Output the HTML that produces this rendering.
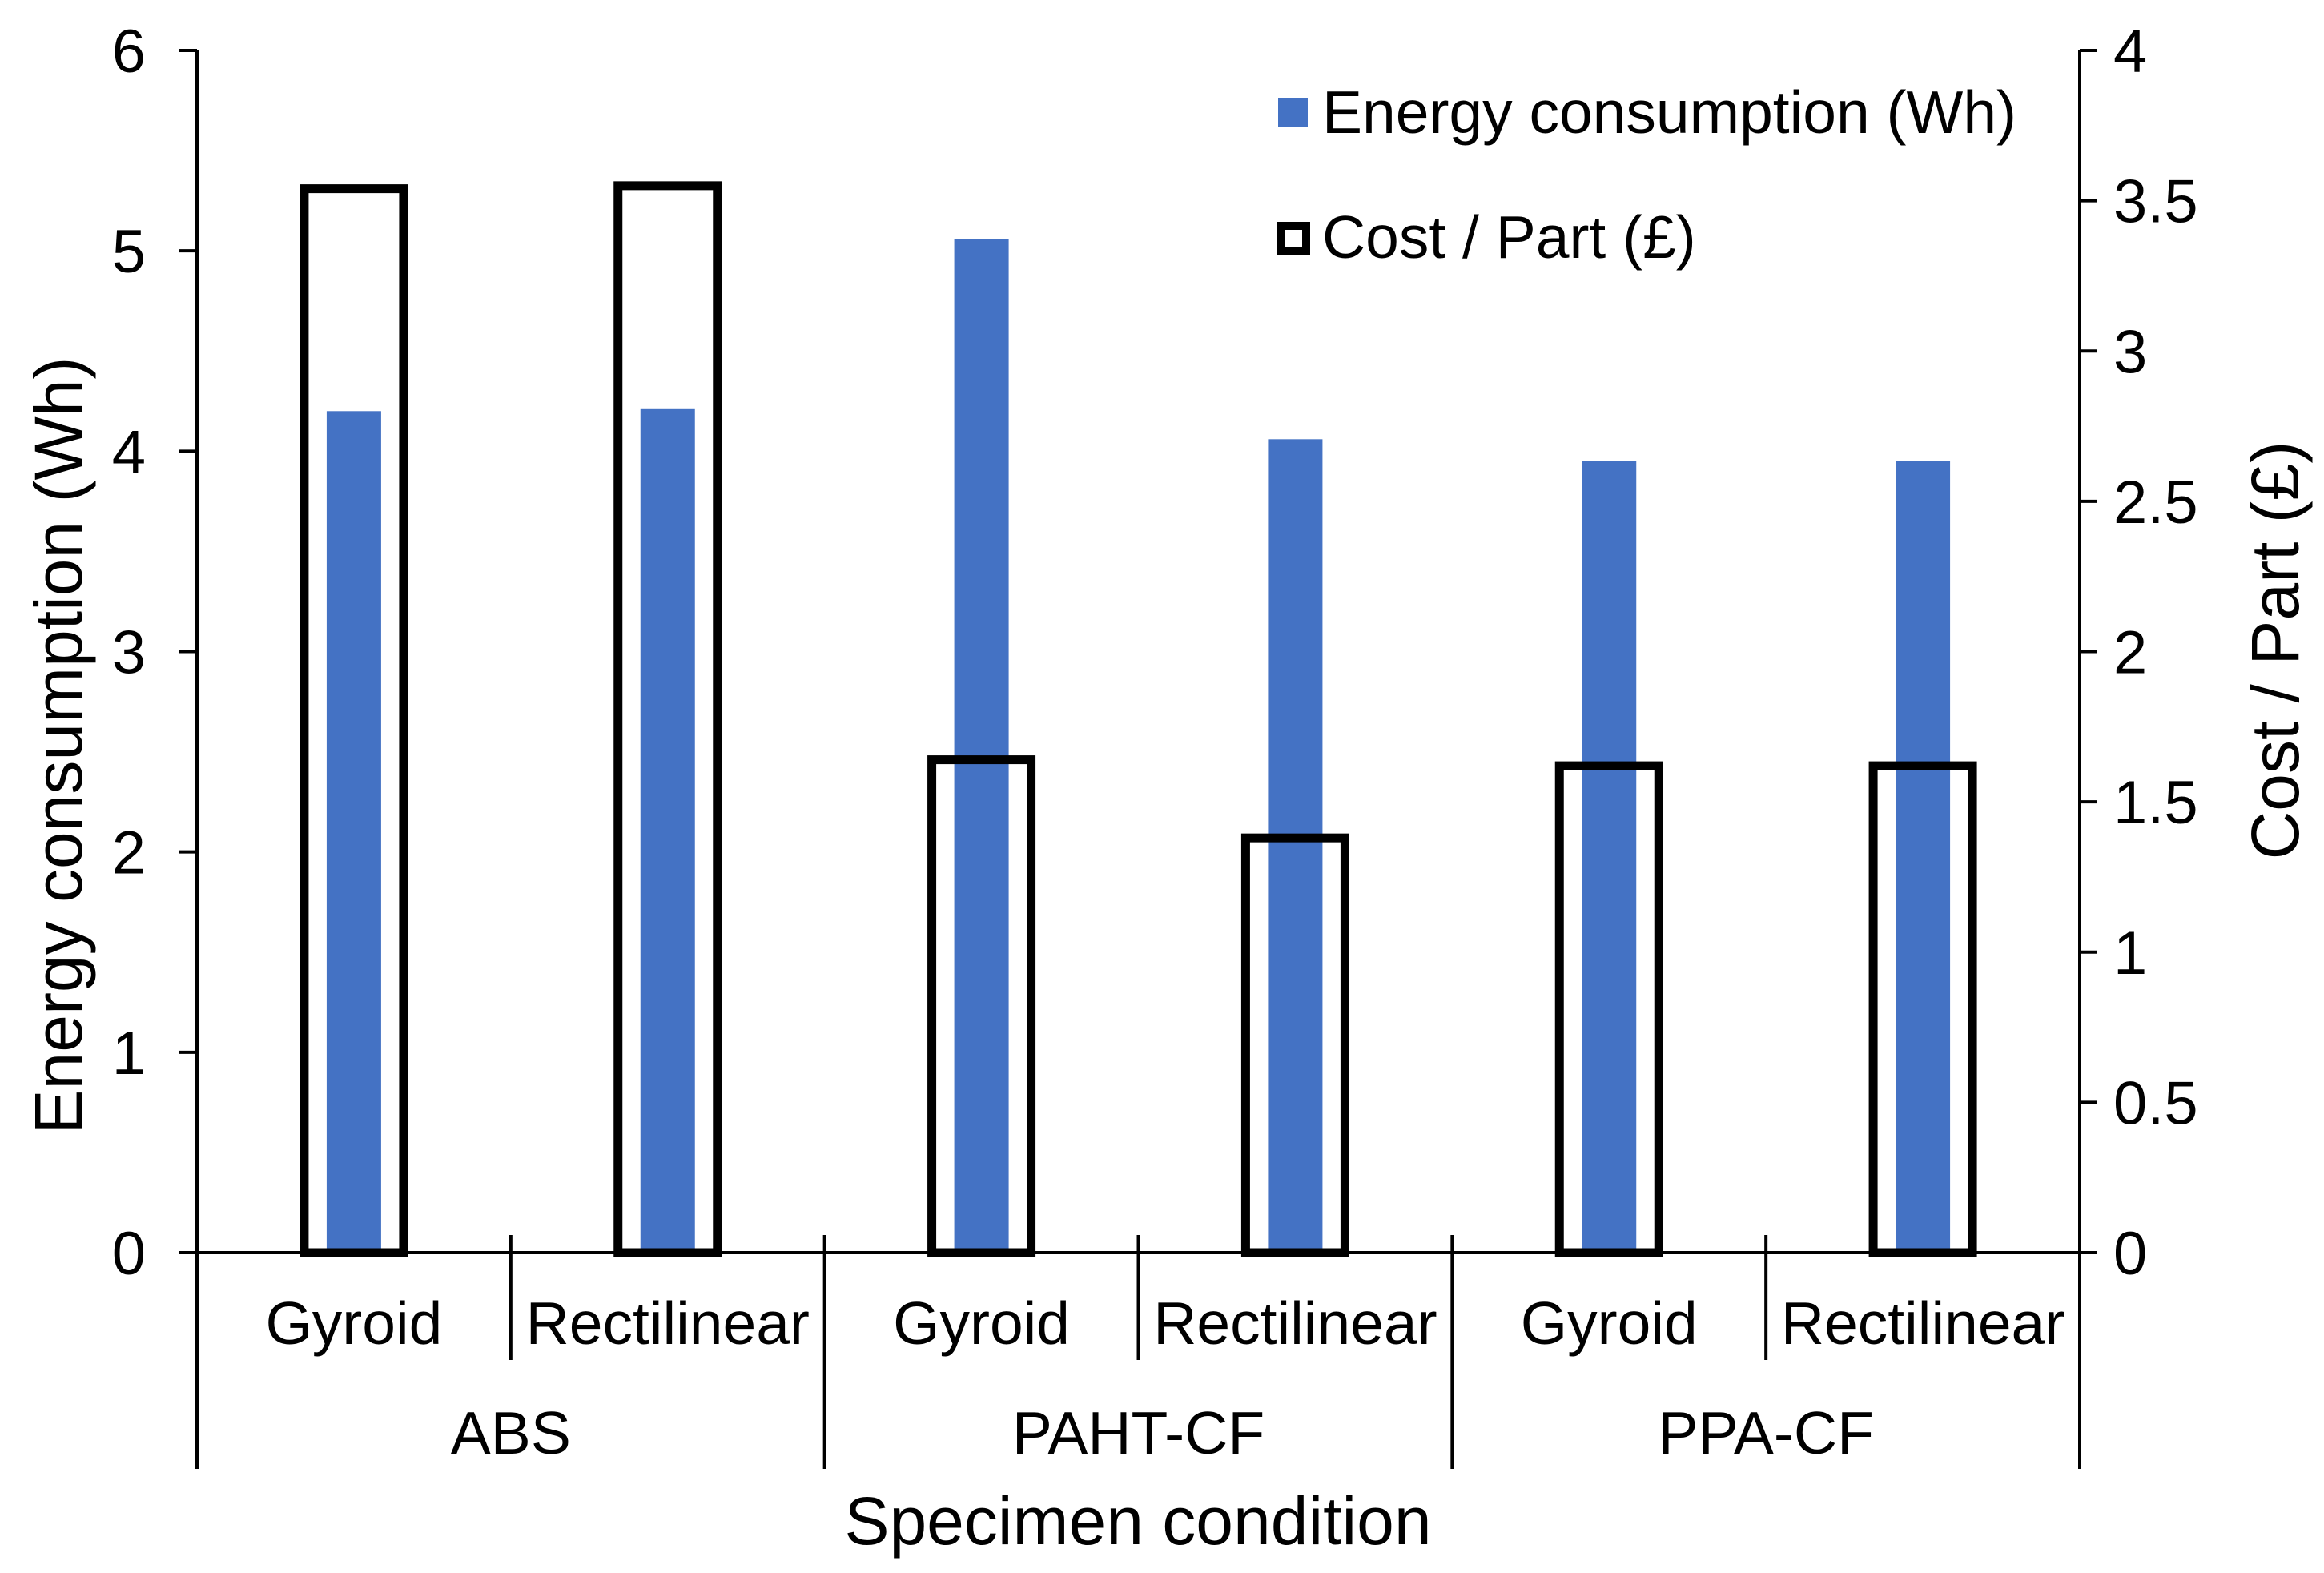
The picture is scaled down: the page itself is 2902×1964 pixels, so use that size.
<!DOCTYPE html>
<html><head><meta charset="utf-8">
<style>
html,body{margin:0;padding:0;background:#fff;}
svg{display:block;font-family:"Liberation Sans",Arial,sans-serif;}
</style></head>
<body>
<svg id="chart" width="2902" height="1964" viewBox="0 0 2902 1964" xmlns="http://www.w3.org/2000/svg">
<g id="axes"></g>
<g id="bars"></g>
<g id="labels"></g>
<g>
  <rect x="1596" y="122" width="37" height="37" fill="#4472C4"/>
  <text x="1651" y="166" font-size="75" fill="#000">Energy consumption (Wh)</text>
  <rect x="1600" y="282" width="31" height="31" fill="none" stroke="#000" stroke-width="10"/>
  <text x="1651" y="322" font-size="75" fill="#000">Cost / Part (£)</text>
</g>
<text transform="translate(102,931) rotate(-90)" text-anchor="middle" font-size="84">Energy consumption (Wh)</text>
<text transform="translate(2870,812) rotate(-90)" text-anchor="middle" font-size="84">Cost / Part (£)</text>
<text x="1421" y="1928" text-anchor="middle" font-size="84">Specimen condition</text>
</svg>
<script>
const categories = ["Gyroid","Rectilinear","Gyroid","Rectilinear","Gyroid","Rectilinear"];
const groups = ["ABS","PAHT-CF","PPA-CF"];
const energy = [4.2,4.21,5.06,4.06,3.95,3.95];
const cost = [3.54,3.55,1.64,1.38,1.62,1.62];
const leftTicks = [0,1,2,3,4,5,6];
const rightTicks = [0,0.5,1,1.5,2,2.5,3,3.5,4];

const NS="http://www.w3.org/2000/svg";
const X0=246, X1=2597, Y0=1564, Ytop=63;
const yL=v=>Y0-(Y0-Ytop)*v/6;
const yR=v=>Y0-(Y0-Ytop)*v/4;
const slot=(X1-X0)/categories.length;
const xc=i=>X0+slot*(i+0.5);
function mk(tag,attrs,parent,text){const e=document.createElementNS(NS,tag);for(const k in attrs)e.setAttribute(k,attrs[k]);if(text!==undefined)e.textContent=text;parent.appendChild(e);return e;}
const axes=document.getElementById('axes'), bars=document.getElementById('bars'), labels=document.getElementById('labels');
const S={stroke:"#000","stroke-width":4};
let e;
e=mk('line',Object.assign({x1:X0,y1:Ytop,x2:X0,y2:1834},S),axes);

e=mk('line',Object.assign({x1:X1,y1:Ytop,x2:X1,y2:1834},S),axes);

leftTicks.forEach(v=>{
  e=mk('line',Object.assign({x1:X0-22,y1:yL(v),x2:X0,y2:yL(v)},S),axes);
  
  e=mk('text',{x:X0-64,y:yL(v)+27,"text-anchor":"end","font-size":76},labels,String(v));
  
});
rightTicks.forEach(v=>{
  e=mk('line',Object.assign({x1:X1,y1:yR(v),x2:X1+22,y2:yR(v)},S),axes);
  
  e=mk('text',{x:X1+42,y:yR(v)+27,"font-size":76},labels,String(v));
  
});
for(let i=1;i<categories.length;i++){
  const x=X0+slot*i, isGroup=i%2===0;
  e=mk('line',Object.assign({x1:x,y1:1542,x2:x,y2:isGroup?1834:1698},S),axes);
  
}
energy.forEach((v,i)=>{
  e=mk('rect',{x:xc(i)-34,y:yL(v),width:68,height:Y0-yL(v),fill:"#4472C4"},bars);
  
});
cost.forEach((v,i)=>{
  e=mk('rect',{x:xc(i)-62,y:yR(v),width:124,height:Y0-yR(v),fill:"none",stroke:"#000","stroke-width":11},bars);
  
});
e=mk('line',Object.assign({x1:X0,y1:Y0,x2:X1,y2:Y0},S),axes);

categories.forEach((c,i)=>{
  e=mk('text',{x:xc(i),y:1678,"text-anchor":"middle","font-size":75},labels,c);
  
});
groups.forEach((g,i)=>{
  e=mk('text',{x:X0+slot*(2*i+1),y:1815,"text-anchor":"middle","font-size":75},labels,g);
  
});
</script>
</body></html>
